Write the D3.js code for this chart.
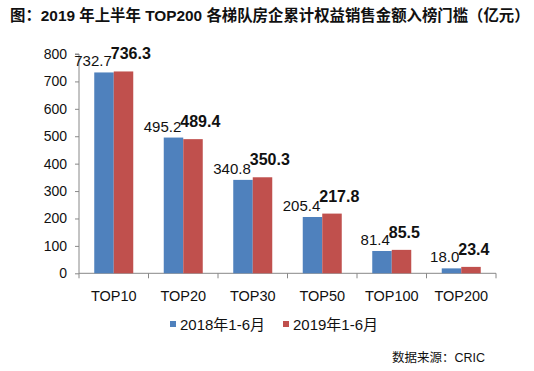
<!DOCTYPE html>
<html>
<head>
<meta charset="utf-8">
<script src="https://cdn.jsdelivr.net/npm/d3@7"></script>
<style>
  body { margin: 0; background: #fff; }
  svg text { font-family: "Liberation Sans", Arial, "Noto Sans CJK SC", sans-serif; }
</style>
</head>
<body>
<div id="chart"></div>
<script>
// data
let categories = ["TOP10", "TOP20", "TOP30", "TOP50", "TOP100", "TOP200"];
let seriesNames = ["2018年1-6月", "2019年1-6月"];
let values2018 = [732.7, 495.2, 340.8, 205.4, 81.4, 18.0];
let values2019 = [736.3, 489.4, 350.3, 217.8, 85.5, 23.4];
let yTicks = [0, 100, 200, 300, 400, 500, 600, 700, 800];
let colors = ["#4F81BD", "#C0504D"];

let width = 534, height = 371;
let svg = d3.select("#chart").append("svg")
    .attr("width", width)
    .attr("height", height);

svg.append("rect").attr("width", width).attr("height", height).attr("fill", "#fff");

// title
svg.append("text")
    .attr("x", 10)
    .attr("y", 21)
    .style("font-size", "15.4px")
    .style("font-weight", "bold")
    .attr("fill", "#111")
    .text("图：2019 年上半年 TOP200 各梯队房企累计权益销售金额入榜门槛（亿元）");

// scales
let x = d3.scaleBand().domain(categories).range([79, 496]);
let y = d3.scaleLinear().domain([0, 800]).range([273.3, 54]);
let xs = d3.scaleBand().domain(seriesNames).range([-19.5, 19.5]);

// y axis
let yAxis = d3.axisLeft(y).tickValues(yTicks).tickSize(4).tickPadding(8);
let gy = svg.append("g").attr("transform", "translate(79,0)").call(yAxis);
gy.select(".domain").attr("stroke", "#888").attr("d", "M-4," + y(800) + "H0V" + y(0));
gy.selectAll(".tick line").attr("stroke", "#888");
gy.selectAll(".tick text").style("font-size", "14px").attr("fill", "#111");

// x axis line and boundary ticks
svg.append("line")
    .attr("x1", x.range()[0]).attr("x2", x.range()[1])
    .attr("y1", y(0)).attr("y2", y(0))
    .attr("stroke", "#888");
svg.selectAll(".xtick")
    .data(d3.range(categories.length + 1))
    .enter().append("line")
    .attr("x1", (d) => x.range()[0] + d * x.bandwidth())
    .attr("x2", (d) => x.range()[0] + d * x.bandwidth())
    .attr("y1", y(0)).attr("y2", y(0) + 5)
    .attr("stroke", "#888");
svg.selectAll(".xlabel")
    .data(categories)
    .enter().append("text")
    .attr("x", (d) => x(d) + x.bandwidth() / 2)
    .attr("y", 301)
    .attr("text-anchor", "middle")
    .style("font-size", "14.5px")
    .attr("fill", "#111")
    .text((d) => d);

// bars
let rows = categories.map((c, i) => ({cat: c, vals: [values2018[i], values2019[i]]}));
let groups = svg.selectAll(".grp")
    .data(rows)
    .enter().append("g")
    .attr("transform", (d) => "translate(" + (x(d.cat) + x.bandwidth() / 2) + ",0)");

groups.selectAll("rect")
    .data((d) => d.vals.map((v, j) => ({v: v, s: seriesNames[j], j: j})))
    .enter().append("rect")
    .attr("x", (d) => xs(d.s))
    .attr("width", xs.bandwidth())
    .attr("y", (d) => y(d.v))
    .attr("height", (d) => y(0) - y(d.v))
    .attr("fill", (d) => colors[d.j]);

// value labels
groups.append("text")
    .attr("x", -2)
    .attr("y", (d) => y(d.vals[0]) - 6)
    .attr("text-anchor", "end")
    .style("font-size", "15px")
    .attr("fill", "#111")
    .text((d) => d.vals[0].toFixed(1));
groups.append("text")
    .attr("x", -3)
    .attr("y", (d) => y(d.vals[1]) - 12)
    .attr("text-anchor", "start")
    .style("font-size", "16px")
    .style("font-weight", "bold")
    .attr("fill", "#111")
    .text((d) => d.vals[1].toFixed(1));

// legend
let legendX = [170, 283];
let leg = svg.selectAll(".leg")
    .data(seriesNames)
    .enter().append("g")
    .attr("transform", (d, i) => "translate(" + legendX[i] + ",321)");
leg.append("rect").attr("width", 6).attr("height", 6).attr("fill", (d, i) => colors[i]);
leg.append("text")
    .attr("x", 10)
    .attr("y", 9)
    .style("font-size", "15px")
    .attr("fill", "#111")
    .text((d) => d);

// source
svg.append("text")
    .attr("x", 392)
    .attr("y", 362)
    .style("font-size", "12.5px")
    .attr("fill", "#111")
    .text("数据来源：CRIC");
</script>
</body>
</html>
